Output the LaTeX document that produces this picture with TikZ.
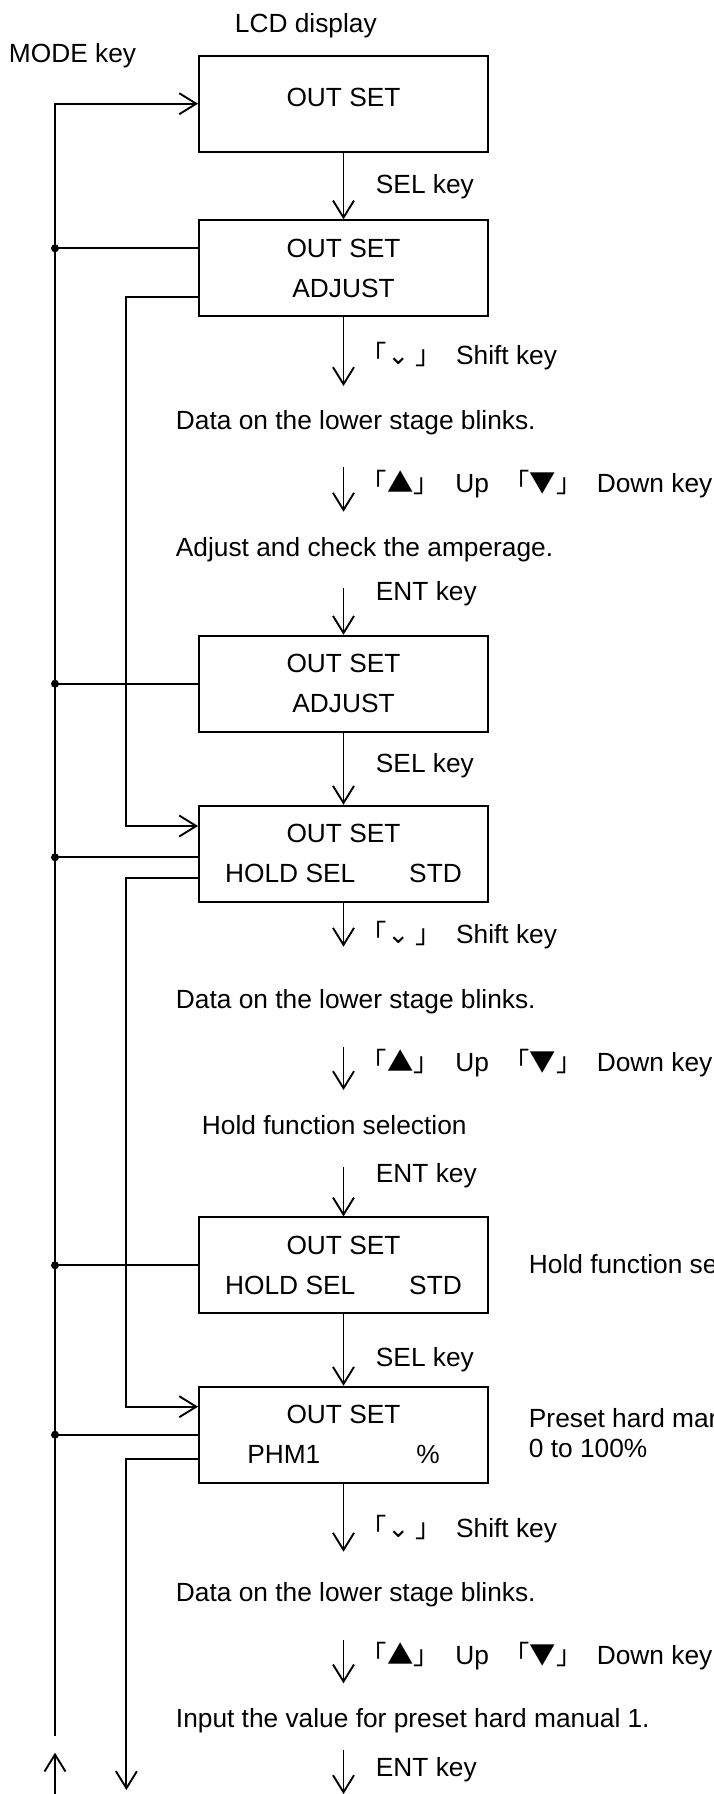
\documentclass[tikz,border=0pt]{standalone}
\usepackage{fontspec}
\setmainfont{Liberation Sans}
\newfontfamily\cjk{Noto Sans CJK JP}
\newfontfamily\symb{DejaVu Sans}
\usetikzlibrary{arrows.meta}

\begin{document}
\begin{tikzpicture}[x=1pt, y=-1pt, line width=1.9pt,
    font=\fontsize{26.3}{40}\selectfont,
    disp/.style={draw, minimum width=289pt, minimum height=96pt, align=center, inner sep=0pt},
    arr/.style={-{Straight Barb[length=17pt,width=21pt]}},
    lbl/.style={anchor=base west, inner sep=0pt}]
    \useasboundingbox (0,0) rectangle (713,1794);

    % LCD display boxes
    \node[disp, text depth=12pt] (d1) at (343.5,103.7) {OUT SET};
    \node[disp] (d2) at (343.5,268.3) {OUT SET\\ADJUST};
    \node[disp] (d3) at (343.5,683.7) {OUT SET\\ADJUST};
    \node[disp] (d4) at (343.5,853.7) {OUT SET\\HOLD SEL\hspace{54pt}STD};
    \node[disp] (d5) at (343.5,1265.3) {OUT SET\\HOLD SEL\hspace{54pt}STD};
    \node[disp] (d6) at (343.5,1434.7) {OUT SET\\PHM1\hspace{96pt}\%};

    \node[lbl] (lcd) at (234,32) {LCD display};
    \node[lbl] (mode) at (8,62.5) {MODE key};

    % SEL key steps
    \draw[arr] (d1) -- (d2);
    \node[lbl] (sel1) at (375,193.5) {SEL key};
    \draw[arr] (d3) -- (d4);
    \node[lbl] (sel2) at (375,772.8) {SEL key};
    \draw[arr] (d5) -- (d6);
    \node[lbl] (sel3) at (375,1366.2) {SEL key};

    % output current adjust
    \coordinate (a1) at (343.5,386);
    \coordinate (a2) at (343.5,467.3);
    \coordinate (a3) at (343.5,511.7);
    \coordinate (a4) at (343.5,588);
    \draw[arr] (d2) -- (a1);
    \node[lbl] (shift1) at (360,364.5) {{\cjk 「}{\symb ⌄}\hspace{6pt}{\cjk 」}\hspace{14.5pt}Shift key};
    \node[lbl] (blink1) at (175,429.5) {Data on the lower stage blinks.};
    \draw[arr] (a2) -- (a3);
    \node[lbl] (updn1) at (360,492.8) {{\cjk 「▲」}\hspace{15.5pt}Up\hspace{14.5pt}{\cjk 「▼」}\hspace{14.5pt}Down key};
    \node[lbl] (amp) at (175,556.8) {Adjust and check the amperage.};
    \draw[arr] (a4) -- (d3);
    \node[lbl] (ent1) at (375,600) {ENT key};

    % hold function
    \coordinate (b1) at (343.5,946.7);
    \coordinate (b2) at (343.5,1046.7);
    \coordinate (b3) at (343.5,1090);
    \coordinate (b4) at (343.5,1166.7);
    \draw[arr] (d4) -- (b1);
    \node[lbl] (shift2) at (360,943.8) {{\cjk 「}{\symb ⌄}\hspace{6pt}{\cjk 」}\hspace{14.5pt}Shift key};
    \node[lbl] (blink2) at (175,1008.5) {Data on the lower stage blinks.};
    \draw[arr] (b2) -- (b3);
    \node[lbl] (updn2) at (360,1071.8) {{\cjk 「▲」}\hspace{15.5pt}Up\hspace{14.5pt}{\cjk 「▼」}\hspace{14.5pt}Down key};
    \node[lbl] (hold) at (201,1134.5) {Hold function selection};
    \draw[arr] (b4) -- (d5);
    \node[lbl] (ent2) at (375,1182) {ENT key};
    \node[lbl] (holdnote) at (528,1273.5) {Hold function selection};

    % preset hard manual 1
    \coordinate (c1) at (343.5,1551.7);
    \coordinate (c2) at (343.5,1640);
    \coordinate (c3) at (343.5,1683.3);
    \coordinate (c4) at (343.5,1750);
    \coordinate (c5) at (343.5,1794);
    \draw[arr] (d6) -- (c1);
    \node[lbl] (shift3) at (360,1537.8) {{\cjk 「}{\symb ⌄}\hspace{6pt}{\cjk 」}\hspace{14.5pt}Shift key};
    \node[lbl] (blink3) at (175,1601.2) {Data on the lower stage blinks.};
    \draw[arr] (c2) -- (c3);
    \node[lbl] (updn3) at (360,1664.5) {{\cjk 「▲」}\hspace{15.5pt}Up\hspace{14.5pt}{\cjk 「▼」}\hspace{14.5pt}Down key};
    \node[lbl] (input) at (175,1727.8) {Input the value for preset hard manual 1.};
    \draw[arr] (c4) -- (c5);
    \node[lbl] (ent3) at (375,1776.2) {ENT key};
    \node[lbl] (phmnote) at (528,1427.8) {Preset hard manual 1};
    \node[lbl] (range) at (528,1457.8) {0 to 100\%};

    % MODE key line
    \coordinate (m0) at (55,1736);
    \coordinate (m1) at (55,1794);
    \coordinate (m2) at (55,1752.7);
    \draw[arr] (m0) |- (d1);
    \draw[arr] (m1) -- (m2);
    \coordinate (t2) at ([yshift=20pt]d2.west);
    \coordinate (t3) at (d3.west);
    \coordinate (t4) at ([yshift=-3.6pt]d4.west);
    \coordinate (t5) at (d5.west);
    \coordinate (t6) at (d6.west);
    \draw (t2) -- (t2 -| m0);
    \draw (t3) -- (t3 -| m0);
    \draw (t4) -- (t4 -| m0);
    \draw (t5) -- (t5 -| m0);
    \draw (t6) -- (t6 -| m0);
    \fill (t2 -| m0) circle (4pt);
    \fill (t3 -| m0) circle (4pt);
    \fill (t4 -| m0) circle (4pt);
    \fill (t5 -| m0) circle (4pt);
    \fill (t6 -| m0) circle (4pt);

    % return to next item
    \coordinate (r) at (126.4,1790);
    \coordinate (o2) at ([yshift=-29pt]d2.west);
    \coordinate (i4) at ([yshift=27.7pt]d4.west);
    \coordinate (o4) at ([yshift=-24pt]d4.west);
    \coordinate (i6) at ([yshift=28pt]d6.west);
    \coordinate (o6) at ([yshift=-24.6pt]d6.west);
    \draw[arr] (o2) -| (r |- i4) -- (i4);
    \draw[arr] (o4) -| (r |- i6) -- (i6);
    \draw[arr] (o6) -| (r);
\end{tikzpicture}
\end{document}
